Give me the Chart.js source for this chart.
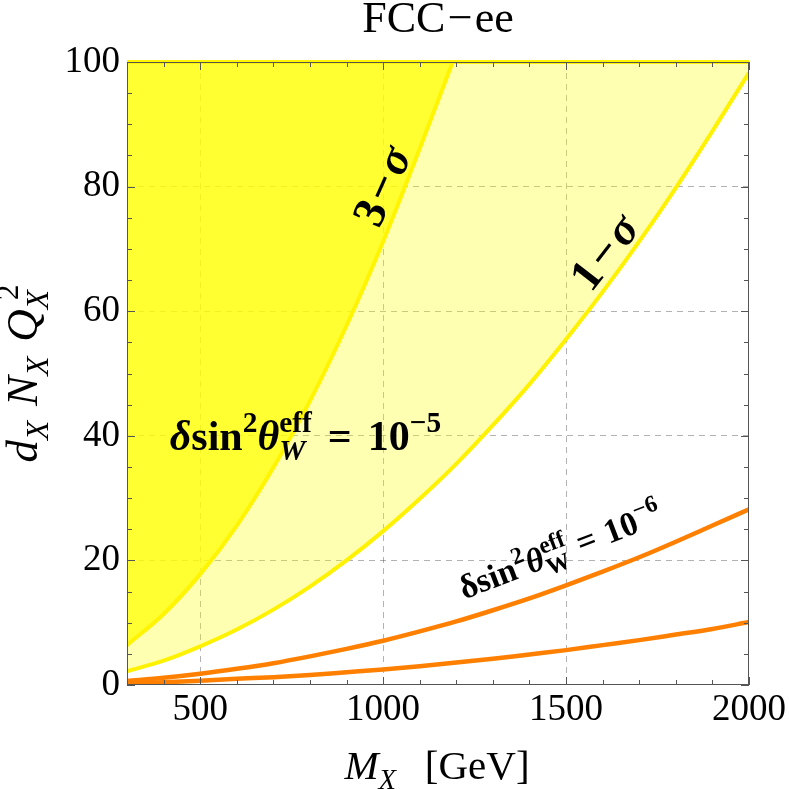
<!DOCTYPE html>
<html><head><meta charset="utf-8">
<script src="https://cdn.jsdelivr.net/npm/chart.js@4.4.0/dist/chart.umd.min.js"></script>
<style>html,body{margin:0;padding:0;background:#fff;}#wrap{width:789px;height:789px;}</style>
</head><body><div id="wrap"><canvas id="c" width="789" height="789"></canvas></div>
<script>
// ---- data ----
const massGrid = [300,400,500,600,700,800,900,1000,1100,1200,1300,1400,1500,1600,1700,1800,1900,2000];
const sigma1Bound = [2.2,3.9,6.2,8.9,12.1,15.8,20.0,24.7,29.9,35.5,41.7,48.3,55.5,63.1,71.2,79.8,88.9,98.3];
const mass3 = [300,400,500,600,700,800,900,1000,1100,1190];
const sigma3Bound = [6.4,11.4,17.8,25.6,34.9,45.6,57.7,71.2,86.1,100];
const upper1e6 = [0.65,1.15,1.8,2.6,3.5,4.6,5.8,7.1,8.6,10.2,12.0,13.9,16.0,18.2,20.5,23.0,25.6,28.2];
const lower1e6 = [0.25,0.45,0.7,1.0,1.25,1.6,2.05,2.5,3.0,3.6,4.2,4.9,5.6,6.4,7.2,8.1,9.0,10.1];
const topMass = [300, 2000];
const topValue = [100, 100];
const xMajorTicks = [500,1000,1500,2000];
const yMajorTicks = [0,20,40,60,80,100];

const pts = (xs, ys) => xs.map((x,i)=>({x:x, y:ys[i]}));
const SERIF = '"Liberation Serif", "Times New Roman", serif';

function fontStr(s, px){ return (s && s.includes('i') ? 'italic ' : '') + (s && s.includes('b') ? 'bold ' : '') + px + 'px ' + SERIF; }
function segWidth(ctx, g, size){
  if (g.gap !== undefined) return g.gap*size;
  if (g.p === 'ss'){
    ctx.font = fontStr(g.sub.s, size*0.7); const a = ctx.measureText(g.sub.t).width;
    ctx.font = fontStr(g.sup.s, size*0.7); const b = ctx.measureText(g.sup.t).width + (g.sup.dx||0)*size;
    return Math.max(a,b);
  }
  const sz = (g.p === 'sup' || g.p === 'sub') ? size*0.7 : size;
  ctx.font = fontStr(g.s, sz);
  return ctx.measureText(g.t).width;
}
function drawRich(ctx, segs, x, y, size, angle, align, vmid){
  ctx.save();
  ctx.translate(x, y);
  ctx.rotate(angle);
  let total = 0; segs.forEach(g => total += segWidth(ctx, g, size));
  let cx = align === 'left' ? 0 : -total/2;
  const by = vmid ? size*0.33 : 0;
  ctx.fillStyle = '#000';
  ctx.textBaseline = 'alphabetic';
  ctx.textAlign = 'left';
  segs.forEach(g => {
    const w = segWidth(ctx, g, size);
    if (g.gap === undefined){
      if (g.p === 'ss'){
        ctx.font = fontStr(g.sub.s, size*0.7); ctx.fillText(g.sub.t, cx, by + size*0.24);
        ctx.font = fontStr(g.sup.s, size*0.7); ctx.fillText(g.sup.t, cx + (g.sup.dx||0)*size, by - size*0.42);
      } else {
        const sz = (g.p === 'sup' || g.p === 'sub') ? size*0.7 : size;
        const dy = g.p === 'sup' ? -size*0.42 : (g.p === 'sub' ? size*0.24 : 0);
        ctx.font = fontStr(g.s, sz);
        ctx.fillText(g.t, cx, by + dy);
      }
    }
    cx += w;
  });
  ctx.restore();
}

const titleLabel = [{t:'FCC', s:''}, {gap:0.05}, {t:'\u2212', s:''}, {gap:0.05}, {t:'ee', s:''}];
const bigLabel = [
  {t:'\u03B4', s:'bi'}, {t:'sin', s:'b'}, {t:'2', s:'b', p:'sup'}, {t:'\u03B8', s:'bi'},
  {p:'ss', sub:{t:'W', s:'bi'}, sup:{t:'eff', s:'b'}}, {gap:0.38}, {t:'=', s:'b'}, {gap:0.38},
  {t:'10', s:'b'}, {t:'\u22125', s:'b', p:'sup'}
];
const smallLabel = [
  {t:'\u03B4', s:'b'}, {t:'sin', s:'b'}, {t:'2', s:'b', p:'sup'}, {t:'\u03B8', s:'bi'},
  {p:'ss', sub:{t:'W', s:'b'}, sup:{t:'eff', s:'b'}}, {gap:0.3}, {t:'=', s:'b'}, {gap:0.3},
  {t:'10', s:'b'}, {t:'\u22126', s:'b', p:'sup'}
];
const sigma3Label = [{t:'3', s:'b'}, {gap:0.08}, {t:'\u2212', s:'b'}, {gap:0.08}, {t:'\u03C3', s:'bi'}];
const sigma1Label = [{t:'1', s:'b'}, {gap:0.08}, {t:'\u2212', s:'b'}, {gap:0.08}, {t:'\u03C3', s:'bi'}];
const yAxisLabel = [
  {t:'d', s:'i'}, {t:'X', s:'i', p:'sub'}, {gap:0.33}, {t:'N', s:'i'}, {t:'X', s:'i', p:'sub'}, {gap:0.33},
  {t:'Q', s:'i'}, {p:'ss', sub:{t:'X', s:'i'}, sup:{t:'2', s:'', dx:0.2}}
];
const xAxisLabel = [{t:'M', s:'i'}, {t:'X', s:'i', p:'sub'}, {gap:0.7}, {t:'[GeV]', s:''}];

const decor = {
  id: 'decor',
  afterDatasetsDraw(chart){
    const ctx = chart.ctx, a = chart.chartArea;
    const xs = chart.scales.x, ys = chart.scales.y;
    ctx.save();
    ctx.strokeStyle = '#555'; ctx.lineWidth = 1;
    ctx.strokeRect(a.left+0.5, a.top+0.5, a.right-a.left-1, a.bottom-a.top-1);
    ctx.beginPath();
    xs.ticks.forEach(t => {
      const px = Math.round(xs.getPixelForValue(t.value)) + 0.5;
      const L = t.value % 500 === 0 ? 8 : 5;
      ctx.moveTo(px, a.bottom); ctx.lineTo(px, a.bottom - L);
      ctx.moveTo(px, a.top); ctx.lineTo(px, a.top + L);
    });
    ys.ticks.forEach(t => {
      const py = Math.round(ys.getPixelForValue(t.value)) + 0.5;
      const L = yMajorTicks.includes(t.value) ? 8 : 5;
      ctx.moveTo(a.left, py); ctx.lineTo(a.left + L, py);
      ctx.moveTo(a.right, py); ctx.lineTo(a.right - L, py);
    });
    ctx.stroke();
    ctx.restore();
  },
  afterDraw(chart){
    const ctx = chart.ctx, a = chart.chartArea;
    const xs = chart.scales.x, ys = chart.scales.y;
    const X = v => xs.getPixelForValue(v), Y = v => ys.getPixelForValue(v);
    // title
    drawRich(ctx, titleLabel, (a.left + a.right)/2, a.top - 30, 44, 0, 'center', false);
    // annotations
    drawRich(ctx, bigLabel, X(417), Y(37.7), 42, 0, 'left', false);
    drawRich(ctx, smallLabel, X(1495), Y(19.9), 34, -21*Math.PI/180, 'center', false);
    drawRich(ctx, sigma3Label, X(996), Y(80.1), 46, -66*Math.PI/180, 'center', true);
    drawRich(ctx, sigma1Label, X(1604), Y(69.5), 46, -52*Math.PI/180, 'center', true);
    // axis titles
    drawRich(ctx, xAxisLabel, (a.left + a.right)/2 - 1, a.bottom + 94, 41, 0, 'center', false);
    drawRich(ctx, yAxisLabel, a.left - 90, (a.top + a.bottom)/2, 45, -Math.PI/2, 'center', false);
  }
};

new Chart(document.getElementById('c'), {
  type: 'line',
  data: {
    datasets: [
      { label: '1-sigma', data: pts(massGrid, sigma1Bound), order: 6, fill: 'end',
        backgroundColor: 'rgba(255,255,0,0.30)', borderColor: 'rgb(255,242,0)', borderWidth: 4,
        pointRadius: 0, cubicInterpolationMode: 'monotone' },
      { label: '3-sigma', data: pts(mass3, sigma3Bound), order: 5, fill: 'end',
        backgroundColor: 'rgba(255,255,0,0.72)', borderColor: 'rgb(255,245,0)', borderWidth: 4,
        pointRadius: 0, cubicInterpolationMode: 'monotone' },
      { label: 'top', data: pts(topMass, topValue), order: 4, fill: false,
        borderColor: 'rgb(255,245,0)', borderWidth: 4, pointRadius: 0, clip: 4 },
      { label: 'upper 1e-6', data: pts(massGrid, upper1e6), order: 2, fill: false,
        borderColor: 'rgb(255,128,0)', borderWidth: 4.5, pointRadius: 0, cubicInterpolationMode: 'monotone' },
      { label: 'lower 1e-6', data: pts(massGrid, lower1e6), order: 1, fill: false,
        borderColor: 'rgb(255,128,0)', borderWidth: 4.5, pointRadius: 0, cubicInterpolationMode: 'monotone' }
    ]
  },
  options: {
    responsive: false, animation: false, devicePixelRatio: 1,
    layout: { padding: { top: 62, right: 39, left: 0, bottom: 0 } },
    plugins: { legend: { display: false }, tooltip: { enabled: false }, title: { display: false } },
    scales: {
      x: {
        type: 'linear', min: 300, max: 2000,
        afterFit: s => { s.height = 104; },
        ticks: { stepSize: 100, autoSkip: false, maxRotation: 0, padding: 3, color: '#000',
          font: { family: 'Liberation Serif', size: 37 },
          callback: v => xMajorTicks.includes(v) ? String(v) : '' },
        grid: { drawTicks: false, lineWidth: 1,
          color: c => (c.tick && c.tick.value % 500 === 0 && c.tick.value > 300 && c.tick.value < 2000) ? 'rgba(0,0,0,0.3)' : 'rgba(0,0,0,0)' },
        border: { display: false, dash: [6,5] }
      },
      y: {
        type: 'linear', min: 0, max: 100,
        afterFit: s => { s.width = 127; },
        ticks: { stepSize: 5, autoSkip: false, padding: 7, color: '#000',
          font: { family: 'Liberation Serif', size: 37 },
          callback: v => yMajorTicks.includes(v) ? String(v) : '' },
        grid: { drawTicks: false, lineWidth: 1,
          color: c => (c.tick && c.tick.value % 20 === 0 && c.tick.value > 0 && c.tick.value < 100) ? 'rgba(0,0,0,0.3)' : 'rgba(0,0,0,0)' },
        border: { display: false, dash: [6,5] }
      }
    }
  },
  plugins: [decor]
});
</script>
</body></html>
